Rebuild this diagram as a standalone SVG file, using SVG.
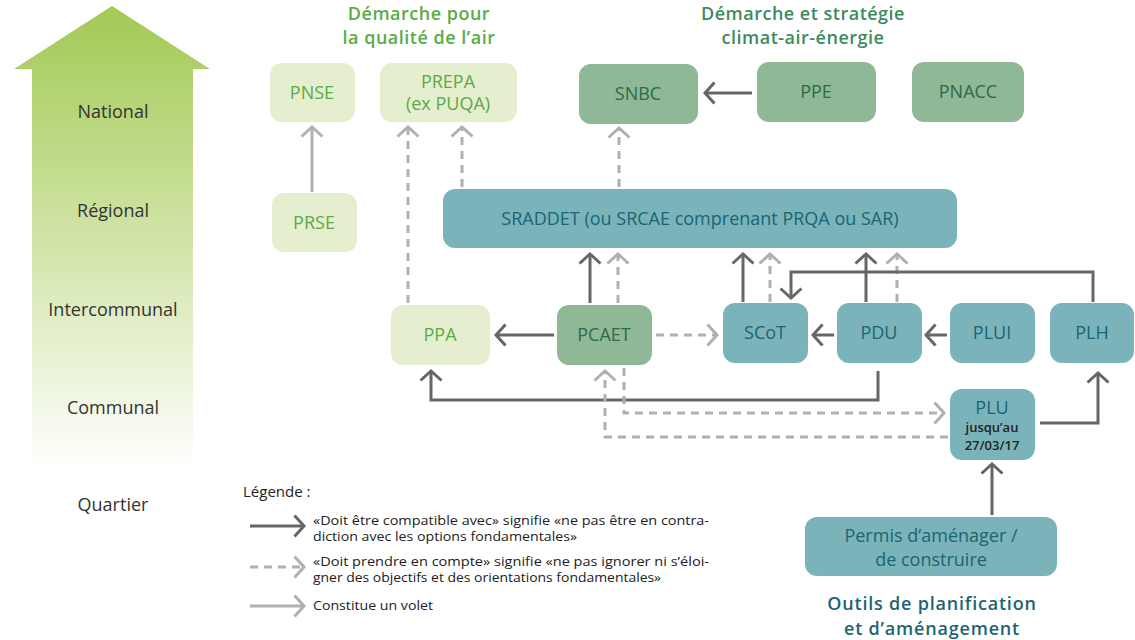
<svg xmlns="http://www.w3.org/2000/svg" width="1135" height="640" viewBox="0 0 1135 640">
<defs>
<linearGradient id="lvl" x1="0" y1="0" x2="0" y2="1">
<stop offset="0" stop-color="#a3c954"/>
<stop offset="0.45" stop-color="#cce19e"/>
<stop offset="1" stop-color="#ffffff"/>
</linearGradient>
<marker id="hd" viewBox="0 0 13 24" refX="11" refY="12" markerWidth="13" markerHeight="24" markerUnits="userSpaceOnUse" orient="auto">
<path d="M1.5,1.5 L11,12 L1.5,22.5" fill="none" stroke="#666" stroke-width="3"/>
</marker>
<marker id="hl" viewBox="0 0 13 24" refX="11" refY="12" markerWidth="13" markerHeight="24" markerUnits="userSpaceOnUse" orient="auto">
<path d="M1.5,1.5 L11,12 L1.5,22.5" fill="none" stroke="#b0b0b0" stroke-width="3"/>
</marker>
<style>
.lvl{font-family:"Open Sans",sans-serif;font-size:18px;fill:#333;text-anchor:middle}
.ttl{font-family:"Open Sans",sans-serif;font-size:18px;font-weight:600;letter-spacing:0.5px;text-anchor:middle}
.ttl2{font-family:"Open Sans",sans-serif;font-size:18px;font-weight:600;letter-spacing:0.8px;text-anchor:middle}
.n1 rect{fill:#e5eecf}
.n1 text{fill:#5aab46}
.n2 rect{fill:#8fb897}
.n2 text{fill:#2d6a48}
.n3 rect{fill:#7ab4ba}
.n3 text{fill:#1b6572}
.nt{font-family:"Open Sans",sans-serif;font-size:18px;font-weight:500;text-anchor:middle}
.n3 .sm{font-family:"Open Sans",sans-serif;font-size:13px;font-weight:600;text-anchor:middle;fill:#222}
.d{fill:none;stroke:#666;stroke-width:3;marker-end:url(#hd)}
.l{fill:none;stroke:#b0b0b0;stroke-width:3;marker-end:url(#hl)}
.ld{fill:none;stroke:#b0b0b0;stroke-width:3;stroke-dasharray:8 6;marker-end:url(#hl)}
.lg{font-family:"Open Sans",sans-serif;font-size:12.5px;fill:#222}
.lgt{font-family:"Open Sans",sans-serif;font-size:15px;fill:#222}
</style>
</defs>
<rect width="1135" height="640" fill="#fff"/>
<g id="levels">
<polygon points="112,6 210,69 193,69 193,470 32,470 32,69 14,69" fill="url(#lvl)"/>
<text class="lvl" x="113" y="118">National</text>
<text class="lvl" x="113" y="217">Régional</text>
<text class="lvl" x="113" y="316">Intercommunal</text>
<text class="lvl" x="113" y="414">Communal</text>
<text class="lvl" x="113" y="511">Quartier</text>
</g>
<g id="titles">
<text class="ttl" x="419" y="19.5" fill="#5aab46">Démarche pour</text>
<text class="ttl" x="419" y="44" fill="#5aab46">la qualité de l’air</text>
<text class="ttl" x="803" y="19.5" fill="#3d8a5e">Démarche et stratégie</text>
<text class="ttl" x="803" y="44" fill="#3d8a5e">climat-air-énergie</text>
<text class="ttl2" x="932" y="610" fill="#1b6572">Outils de planification</text>
<text class="ttl2" x="932" y="634.5" fill="#1b6572">et d’aménagement</text>
</g>
<g id="connectors">
<path class="l" d="M312,192 V127"/>
<path class="ld" d="M408,303 V127"/>
<path class="ld" d="M462,187 V127"/>
<path class="ld" d="M619,187 V128"/>
<path class="d" d="M752,93 H705"/>
<path class="d" d="M590,303 V254"/>
<path class="ld" d="M618,303 V254"/>
<path class="d" d="M743,302 V254"/>
<path class="ld" d="M770,302 V254"/>
<path class="d" d="M866,302 V254"/>
<path class="ld" d="M897,302 V254"/>
<path class="d" d="M1093,302 V272 H791 V298"/>
<path class="d" d="M554,335 H496"/>
<path class="ld" d="M656,335 H717"/>
<path class="d" d="M834,335 H813"/>
<path class="d" d="M947,335 H926"/>
<path class="d" d="M878,371 V400 H431 V371"/>
<path class="ld" d="M624,368 V413 H944"/>
<path class="ld" d="M948,437 H605 V371"/>
<path class="d" d="M1040,423 H1098 V373"/>
<path class="d" d="M992,515 V464"/>
</g>
<g id="PNSE" class="n1"><rect x="270" y="63" width="85" height="59" rx="12"/><text class="nt" x="312" y="99">PNSE</text></g>
<g id="PREPA" class="n1"><rect x="380" y="63" width="137" height="59" rx="12"/><text class="nt" x="448" y="88">PREPA</text><text class="nt" x="448" y="110">(ex PUQA)</text></g>
<g id="PRSE" class="n1"><rect x="272" y="193" width="85" height="59" rx="12"/><text class="nt" x="314" y="229">PRSE</text></g>
<g id="SNBC" class="n2"><rect x="579" y="64" width="119" height="60" rx="12"/><text class="nt" x="638" y="100">SNBC</text></g>
<g id="PPE" class="n2"><rect x="757" y="62" width="119" height="60" rx="12"/><text class="nt" x="816" y="98">PPE</text></g>
<g id="PNACC" class="n2"><rect x="912" y="62" width="112" height="60" rx="12"/><text class="nt" x="968" y="98">PNACC</text></g>
<g id="SRADDET" class="n3"><rect x="443" y="189" width="514" height="59" rx="12"/><text class="nt" x="700" y="225">SRADDET (ou SRCAE comprenant PRQA ou SAR)</text></g>
<g id="PPA" class="n1"><rect x="391" y="305" width="99" height="60" rx="12"/><text class="nt" x="440" y="341">PPA</text></g>
<g id="PCAET" class="n2"><rect x="557" y="305" width="95" height="60" rx="12"/><text class="nt" x="604" y="341">PCAET</text></g>
<g id="SCoT" class="n3"><rect x="723" y="303" width="85" height="60" rx="12"/><text class="nt" x="765" y="339">SCoT</text></g>
<g id="PDU" class="n3"><rect x="837" y="303" width="85" height="60" rx="12"/><text class="nt" x="879" y="339">PDU</text></g>
<g id="PLUI" class="n3"><rect x="950" y="303" width="85" height="60" rx="12"/><text class="nt" x="992" y="339">PLUI</text></g>
<g id="PLH" class="n3"><rect x="1050" y="303" width="84" height="60" rx="12"/><text class="nt" x="1092" y="339">PLH</text></g>
<g id="PLU" class="n3"><rect x="950" y="389" width="85" height="71" rx="12"/><text class="nt" x="992" y="414">PLU</text><text class="sm" x="992" y="432">jusqu’au</text><text class="sm" x="992" y="450">27/03/17</text></g>
<g id="Permis" class="n3"><rect x="805" y="517" width="252" height="59" rx="12"/><text class="nt" x="931" y="542">Permis d’aménager /</text><text class="nt" x="931" y="566">de construire</text></g>
<g id="legend">
<text class="lgt" x="243" y="497">Légende :</text>
<path class="d" d="M250,526 H304" stroke-width="2.5"/>
<text class="lg" x="313" y="525" textLength="396" lengthAdjust="spacingAndGlyphs">«Doit être compatible avec» signifie «ne pas être en contra-</text>
<text class="lg" x="313" y="541" textLength="264" lengthAdjust="spacingAndGlyphs">diction avec les options fondamentales»</text>
<path class="ld" d="M250,567 H304" stroke-width="2.5"/>
<text class="lg" x="313" y="566" textLength="396" lengthAdjust="spacingAndGlyphs">«Doit prendre en compte» signifie «ne pas ignorer ni s’éloi-</text>
<text class="lg" x="313" y="582" textLength="348" lengthAdjust="spacingAndGlyphs">gner des objectifs et des orientations fondamentales»</text>
<path class="l" d="M250,606 H304" stroke-width="2.5"/>
<text class="lg" x="313" y="610" textLength="120" lengthAdjust="spacingAndGlyphs">Constitue un volet</text>
</g>
</svg>
